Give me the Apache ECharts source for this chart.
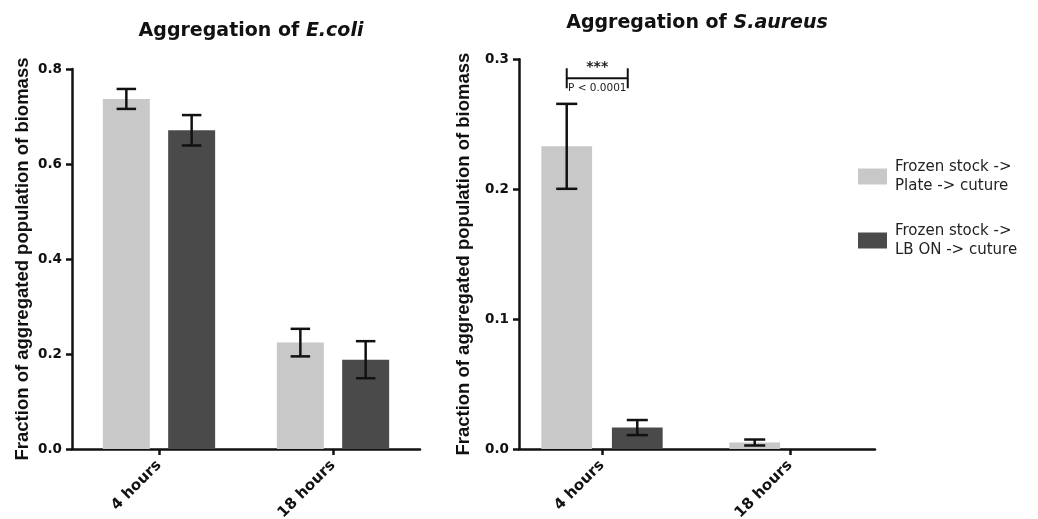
<!DOCTYPE html>
<html>
<head>
<meta charset="utf-8">
<script src="https://cdn.jsdelivr.net/npm/echarts@6/dist/echarts.min.js"></script>
<style>
html,body{margin:0;padding:0;background:#fff;}
#c{width:1038px;height:519px;}
</style>
</head>
<body>
<div id="c"></div>
<script>
// ---- data ----
var categories = ['4 hours', '18 hours'];
var seriesNames = ['Frozen stock ->\nPlate -> cuture', 'Frozen stock ->\nLB ON -> cuture'];
var ecoliPlate = [0.737, 0.224];
var ecoliPlateErr = [0.021, 0.029];
var ecoliLB = [0.671, 0.188];
var ecoliLBErr = [0.032, 0.039];
var saureusPlate = [0.233, 0.005];
var saureusPlateErr = [0.0327, 0.0023];
var saureusLB = [0.0165, null];
var saureusLBErr = [0.0058, null];
var ecoliTicks = [0, 0.8, 0.2];   // min, max, interval
var saureusTicks = [0, 0.3, 0.1];
var sigLevel = [0.2854];
var sigLabels = ['***', 'P < 0.0001'];

// ---- styles ----
var LIGHT = '#c8c8c8', DARK = '#4a4a4a', INK = '#111';
var HF = 'DejaVu Sans';
var BW = 0.27, BG = 0.39;
var OFF = BW * (1 + BG) / 2;

function errData(vals, errs) {
  var out = [];
  vals.forEach(function (v, i) { if (v != null && errs[i] != null) out.push([i, v, errs[i]]); });
  return out;
}
function errRender(sign) {
  return function (params, api) {
    var i = api.value(0), v = api.value(1), e = api.value(2);
    var band = api.size([1, 0])[0];
    var x = api.coord([i, v])[0] + sign * OFF * band;
    var yt = api.coord([i, v + e])[1], yb = api.coord([i, v - e])[1];
    var hw = 0.056 * band;
    var st = { stroke: INK, lineWidth: 2.5 };
    return { type: 'group', children: [
      { type: 'line', shape: { x1: x, y1: yt, x2: x, y2: yb }, style: st },
      { type: 'line', shape: { x1: x - hw, y1: yt, x2: x + hw, y2: yt }, style: st },
      { type: 'line', shape: { x1: x - hw, y1: yb, x2: x + hw, y2: yb }, style: st }
    ]};
  };
}
function sigRender(params, api) {
  var v = api.value(1);
  var band = api.size([1, 0])[0];
  var c = api.coord([0, v]);
  var x1 = c[0] - OFF * band, x2 = c[0] + 0.137 * band, y = c[1];
  var st = { stroke: INK, lineWidth: 2 };
  var xm = (x1 + x2) / 2;
  return { type: 'group', children: [
    { type: 'line', shape: { x1: x1, y1: y, x2: x2, y2: y }, style: st },
    { type: 'line', shape: { x1: x1, y1: y - 10, x2: x1, y2: y + 10 }, style: st },
    { type: 'line', shape: { x1: x2, y1: y - 10, x2: x2, y2: y + 10 }, style: st },
    { type: 'text', style: { text: sigLabels[0], x: xm, y: y - 4, align: 'center', verticalAlign: 'bottom', font: 'bold 14px "DejaVu Sans"', fill: '#222' } },
    { type: 'text', style: { text: sigLabels[1], x: xm, y: y + 10, align: 'center', verticalAlign: 'middle', font: '10.5px "DejaVu Sans"', fill: '#222' } }
  ]};
}

var yLabelStyle = { fontFamily: HF, fontWeight: 'bold', fontSize: 13.5, color: INK, margin: 10, formatter: function (v) { return v.toFixed(1); } };
var yNameStyle = { fontFamily: 'Liberation Sans', fontWeight: 'bold', fontSize: 18.5, color: INK };
var axLine = { show: true, lineStyle: { color: INK, width: 2.5 } };
var axTick = { show: true, length: 6, lineStyle: { color: INK, width: 2.5 } };
var xLabel = { rotate: 45, fontFamily: HF, fontWeight: 'bold', fontSize: 15, color: INK, margin: 14, interval: 0 };

var titleRich = function () {
  return {
    b: { fontFamily: HF, fontWeight: 'bold', fontSize: 19, color: INK, lineHeight: 22 },
    i: { fontFamily: HF, fontWeight: 'bold', fontStyle: 'italic', fontSize: 19, color: INK, lineHeight: 22 }
  };
};

var option = {
  animation: false,
  backgroundColor: '#fff',
  title: [
    { text: '{b|Aggregation of }{i|E.coli}', left: 246, top: 15, textAlign: 'center', textStyle: { rich: titleRich() } },
    { text: '{b|Aggregation of }{i|S.aureus}', left: 692, top: 7, textAlign: 'center', textStyle: { rich: titleRich() } }
  ],
  legend: {
    data: seriesNames,
    orient: 'vertical', left: 853, top: 152,
    itemWidth: 29, itemHeight: 16, itemGap: 25, icon: 'rect',
    selectedMode: false,
    textStyle: { fontFamily: HF, fontSize: 15, color: '#222', lineHeight: 19.5, padding: [0, 0, 0, 3] }
  },
  grid: [
    { left: 72, width: 348, top: 69, height: 380, outerBoundsMode: 'none', containLabel: false },
    { left: 508, width: 376, top: 59.3, height: 389.7, outerBoundsMode: 'none', containLabel: false },
    { left: 519, width: 356, top: 59.3, height: 389.7, outerBoundsMode: 'none', containLabel: false }
  ],
  xAxis: [
    { type: 'category', gridIndex: 0, data: categories, axisLine: axLine, axisTick: Object.assign({ alignWithLabel: true }, axTick), axisLabel: xLabel },
    { type: 'category', gridIndex: 1, data: categories, axisLine: { show: false }, axisTick: Object.assign({ alignWithLabel: true }, axTick), axisLabel: xLabel },
    { type: 'value', gridIndex: 2, min: 0, max: 1, axisLine: axLine, axisTick: { show: false }, axisLabel: { show: false }, splitLine: { show: false } }
  ],
  yAxis: [
    { type: 'value', gridIndex: 0, min: ecoliTicks[0], max: ecoliTicks[1], interval: ecoliTicks[2], axisLine: axLine, axisTick: axTick, axisLabel: yLabelStyle, splitLine: { show: false },
      name: 'Fraction of aggregated population of biomass', nameLocation: 'middle', nameRotate: 90, nameGap: 40, nameTextStyle: yNameStyle },
    { type: 'value', gridIndex: 1, min: saureusTicks[0], max: saureusTicks[1], interval: saureusTicks[2], show: false },
    { type: 'value', gridIndex: 2, min: saureusTicks[0], max: saureusTicks[1], interval: saureusTicks[2], axisLine: axLine, axisTick: axTick, axisLabel: yLabelStyle, splitLine: { show: false },
      name: 'Fraction of aggregated population of biomass', nameLocation: 'middle', nameRotate: 90, nameGap: 46, nameTextStyle: yNameStyle }
  ],
  series: [
    { type: 'bar', name: seriesNames[0], xAxisIndex: 0, yAxisIndex: 0, data: ecoliPlate, barWidth: (BW * 100) + '%', barGap: (BG * 100) + '%', itemStyle: { color: LIGHT } },
    { type: 'bar', name: seriesNames[1], xAxisIndex: 0, yAxisIndex: 0, data: ecoliLB, barWidth: (BW * 100) + '%', barGap: (BG * 100) + '%', itemStyle: { color: DARK } },
    { type: 'bar', name: seriesNames[0], xAxisIndex: 1, yAxisIndex: 1, data: saureusPlate, barWidth: (BW * 100) + '%', barGap: (BG * 100) + '%', itemStyle: { color: LIGHT } },
    { type: 'bar', name: seriesNames[1], xAxisIndex: 1, yAxisIndex: 1, data: saureusLB, barWidth: (BW * 100) + '%', barGap: (BG * 100) + '%', itemStyle: { color: DARK } },
    { type: 'custom', xAxisIndex: 0, yAxisIndex: 0, data: errData(ecoliPlate, ecoliPlateErr), renderItem: errRender(-1), z: 5 },
    { type: 'custom', xAxisIndex: 0, yAxisIndex: 0, data: errData(ecoliLB, ecoliLBErr), renderItem: errRender(1), z: 5 },
    { type: 'custom', xAxisIndex: 1, yAxisIndex: 1, data: errData(saureusPlate, saureusPlateErr), renderItem: errRender(-1), z: 5 },
    { type: 'custom', xAxisIndex: 1, yAxisIndex: 1, data: errData(saureusLB, saureusLBErr), renderItem: errRender(1), z: 5 },
    { type: 'custom', xAxisIndex: 1, yAxisIndex: 1, data: [[0, sigLevel[0]]], renderItem: sigRender, z: 5 }
  ]
};
var chart = echarts.init(document.getElementById('c'), null, { renderer: 'canvas' });
chart.setOption(option);
</script>
</body>
</html>
